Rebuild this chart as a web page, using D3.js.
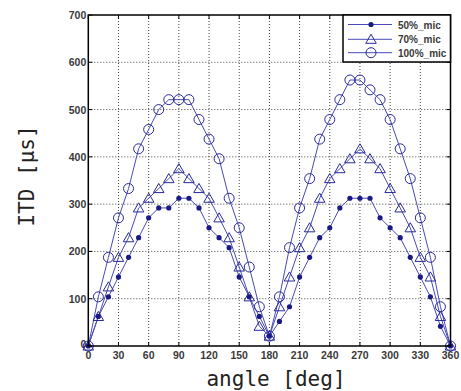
<!DOCTYPE html>
<html>
<head>
<meta charset="utf-8">
<script src="https://cdn.jsdelivr.net/npm/d3@7"></script>
<style>
  body { margin: 0; background: #fff; }
  .tick-label { font-family: "Liberation Sans", Arial, sans-serif; font-size: 10.5px; font-weight: bold; fill: #3a3a3a; }
  .axis-title { font-family: "DejaVu Sans Mono", monospace; font-size: 21px; fill: #222; }
</style>
</head>
<body>
<svg width="461" height="391"></svg>
<script>
// ITD vs angle, three mic settings (values in us)
var angles = [0,10,20,30,40,50,60,70,80,90,100,110,120,130,140,150,160,170,180,
              190,200,210,220,230,240,250,260,270,280,290,300,310,320,330,340,350,360];

var mic50 = [0,62.5,104,146,187.5,229,271,292,292,312.5,312.5,292,250,229,208,146,104,62.5,20.8,
             52,83,146,187.5,229,250,292,312.5,312.5,312.5,271,250,229,187.5,146,104,41.7,0];
var mic70 = [0,62.5,125,187.5,229,292,312.5,333,354,375,354,333,312.5,271,229,167,104,41.7,20.8,
             83,146,208,250,312.5,354,375,396,417,396,375,333,292,250,187.5,146,62.5,0];
var mic100 = [0,104,187.5,271,333,417,458,500,521,521,521,479,437.5,396,312.5,250,167,83,20.8,
              104,208,292,354,437.5,479,521,562.5,562.5,541.7,521,479,417,354,271,187.5,83,0];

var xTicks = [0,30,60,90,120,150,180,210,240,270,300,330,360];
var yTicks = [0,100,200,300,400,500,600,700];
var seriesNames = ["50%_mic", "70%_mic", "100%_mic"];

var svg = d3.select("svg");

var x = d3.scaleLinear().domain([0, 360]).range([88.3, 450.5]);
var y = d3.scaleLinear().domain([0, 700]).range([346, 15]);

var lineColor = "#4a4ab8",
    markColor = "#2a2a9a",
    dotFill = "#1a1a84";

// grid
var grid = svg.append("g");
grid.selectAll(".gx").data(xTicks.slice(1, -1)).enter().append("line")
    .attr("x1", d => x(d)).attr("x2", d => x(d))
    .attr("y1", y(0)).attr("y2", y(700))
    .attr("stroke", "#444").attr("stroke-width", 1).attr("stroke-dasharray", "1,2");
grid.selectAll(".gy").data(yTicks.slice(1, -1)).enter().append("line")
    .attr("x1", x(0)).attr("x2", x(360))
    .attr("y1", d => y(d)).attr("y2", d => y(d))
    .attr("stroke", "#444").attr("stroke-width", 1).attr("stroke-dasharray", "1,2");

// inward tick marks on all four sides
var tk = svg.append("g").attr("stroke", "#000").attr("stroke-width", 1);
xTicks.forEach(function (d) {
  tk.append("line").attr("x1", x(d)).attr("x2", x(d)).attr("y1", y(0)).attr("y2", y(0) - 4);
  tk.append("line").attr("x1", x(d)).attr("x2", x(d)).attr("y1", y(700)).attr("y2", y(700) + 4);
});
yTicks.forEach(function (d) {
  tk.append("line").attr("x1", x(0)).attr("x2", x(0) + 4).attr("y1", y(d)).attr("y2", y(d));
  tk.append("line").attr("x1", x(360)).attr("x2", x(360) - 4).attr("y1", y(d)).attr("y2", y(d));
});

// tick labels
svg.selectAll(".xl").data(xTicks).enter().append("text")
    .attr("class", "tick-label")
    .attr("x", d => x(d)).attr("y", 359)
    .attr("text-anchor", "middle")
    .text(d => d);
svg.selectAll(".yl").data(yTicks).enter().append("text")
    .attr("class", "tick-label")
    .attr("x", x(0) - 2).attr("y", d => d === 0 ? y(d) + 2 : y(d) + 4)
    .attr("text-anchor", "end")
    .text(d => d);

// series
var line = d3.line().x((d, i) => x(angles[i])).y(d => y(d));
var allSeries = [mic50, mic70, mic100];
allSeries.forEach(function (s) {
  svg.append("path").datum(s)
     .attr("d", line)
     .attr("fill", "none")
     .attr("stroke", lineColor)
     .attr("stroke-width", 1);
});

var tri = d3.symbol().type(d3.symbolTriangle).size(48);

function drawMarkers(g, data, kind, xf, yf) {
  data.forEach(function (v, i) {
    var cx = xf ? xf(i) : x(angles[i]), cy = yf ? yf(v) : y(v);
    if (kind === 0) {
      g.append("circle").attr("cx", cx).attr("cy", cy).attr("r", 2.6)
       .attr("fill", dotFill).attr("stroke", "none");
    } else if (kind === 1) {
      g.append("path").attr("d", tri).attr("transform", "translate(" + cx + "," + (cy + 1) + ")")
       .attr("fill", "none").attr("stroke", markColor).attr("stroke-width", 1);
    } else {
      g.append("circle").attr("cx", cx).attr("cy", cy).attr("r", 5)
       .attr("fill", "none").attr("stroke", markColor).attr("stroke-width", 1);
    }
  });
}

var marks = svg.append("g");
drawMarkers(marks, mic50, 0);
drawMarkers(marks, mic70, 1);
drawMarkers(marks, mic100, 2);

// frame
svg.append("rect")
    .attr("x", x(0)).attr("y", y(700))
    .attr("width", x(360) - x(0)).attr("height", y(0) - y(700))
    .attr("fill", "none").attr("stroke", "#000").attr("stroke-width", 1.5);

// legend
var lg = svg.append("g");
lg.append("rect").attr("x", 343).attr("y", y(700)).attr("width", x(360) - 343).attr("height", 47)
  .attr("fill", "#fff").attr("stroke", "#000").attr("stroke-width", 1.5);
var rowY = [24.5, 39.3, 52.7];
seriesNames.forEach(function (name, k) {
  lg.append("line").attr("x1", 348).attr("x2", 392).attr("y1", rowY[k]).attr("y2", rowY[k])
    .attr("stroke", lineColor).attr("stroke-width", 1);
  drawMarkers(lg, [0], k, function () { return 371; }, function () { return rowY[k]; });
  lg.append("text").attr("class", "tick-label").attr("x", 398).attr("y", rowY[k] + 4)
    .style("font-size", "10px").text(name);
});

// axis titles
svg.append("text").attr("class", "axis-title")
    .attr("x", 276).attr("y", 386)
    .attr("text-anchor", "middle")
    .text("angle [deg]");
svg.append("text").attr("class", "axis-title")
    .attr("transform", "translate(34,176) rotate(-90)")
    .attr("text-anchor", "middle")
    .text("ITD [μs]");
</script>
</body>
</html>
